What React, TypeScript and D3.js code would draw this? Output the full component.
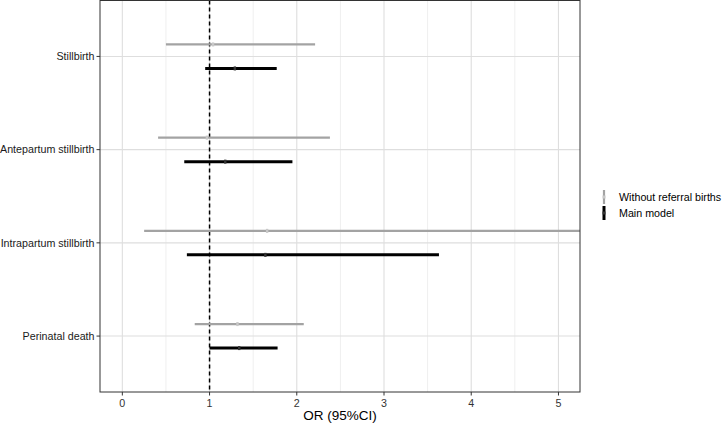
import React from "react";
import * as d3 from "d3";

const outcomes = ["Stillbirth", "Antepartum stillbirth", "Intrapartum stillbirth", "Perinatal death"];
const models = ["Without referral births", "Main model"];
const mainOR = [1.29, 1.18, 1.64, 1.34];
const mainLower = [0.95, 0.71, 0.74, 1.0];
const mainUpper = [1.77, 1.95, 3.63, 1.78];
const noRefOR = [1.04, 0.97, 1.66, 1.32];
const noRefLower = [0.5, 0.41, 0.25, 0.83];
const noRefUpper = [2.21, 2.38, 6.5, 2.08];
const xTicks = [0, 1, 2, 3, 4, 5];
const xMinor = [0.5, 1.5, 2.5, 3.5, 4.5];

const W = 722, H = 423;
const left = 100, right = 580, top = 0.5, bottom = 392;

export default function App() {
  const x = d3.scaleLinear().domain([-0.256, 5.247]).range([left, right]);
  const y = d3.scalePoint<string>().domain(outcomes).range([top, bottom]).padding(0.6);
  const off = 12;
  const series = [
    { name: models[0], or: noRefOR, lo: noRefLower, hi: noRefUpper, color: "#a3a3a3", pt: "#c8c8c8", dy: -off, w: 2.2 },
    { name: models[1], or: mainOR, lo: mainLower, hi: mainUpper, color: "#000000", pt: "#333333", dy: off, w: 3 },
  ];
  const font = "'Liberation Sans', Arial, Helvetica, sans-serif";
  const fs = 10.7;
  return (
    <svg width={W} height={H} style={{ position: "absolute", left: 0, top: 0, fontFamily: font }}>
      <defs>
        <clipPath id="panel">
          <rect x={left} y={top} width={right - left} height={bottom - top} />
        </clipPath>
      </defs>
      <rect x={0} y={0} width={W} height={H} fill="#fff" />
      {xMinor.map((t) => (
        <line key={"m" + t} x1={x(t)} x2={x(t)} y1={top} y2={bottom} stroke="#efefef" strokeWidth={1} />
      ))}
      {xTicks.map((t) => (
        <line key={"g" + t} x1={x(t)} x2={x(t)} y1={top} y2={bottom} stroke="#dedede" strokeWidth={1.1} />
      ))}
      {outcomes.map((o) => (
        <line key={"h" + o} x1={left} x2={right} y1={y(o)!} y2={y(o)!} stroke="#dedede" strokeWidth={1.1} />
      ))}
      <line x1={x(1)} x2={x(1)} y1={top} y2={bottom} stroke="#000" strokeWidth={1.5} strokeDasharray="4,3" />
      <g clipPath="url(#panel)">
        {series.map((s) =>
          outcomes.map((o, i) => {
            const yy = y(o)! + s.dy;
            return (
              <g key={s.name + o}>
                <line x1={x(s.lo[i])} x2={x(s.hi[i])} y1={yy} y2={yy} stroke={s.color} strokeWidth={s.w} />
                <rect x={x(s.or[i]) - 1.2} y={yy - 2} width={2.4} height={4} fill={s.pt} />
              </g>
            );
          })
        )}
      </g>
      <rect x={left} y={top} width={right - left} height={bottom - top} fill="none" stroke="#333" strokeWidth={1} />
      {xTicks.map((t) => (
        <g key={"xt" + t}>
          <line x1={x(t)} x2={x(t)} y1={bottom} y2={bottom + 3.5} stroke="#333" strokeWidth={1} />
          <text x={x(t)} y={bottom + 14.5} textAnchor="middle" fontSize={fs} fill="#333">{t}</text>
        </g>
      ))}
      {outcomes.map((o) => (
        <g key={"yt" + o}>
          <line x1={left - 3.5} x2={left} y1={y(o)!} y2={y(o)!} stroke="#333" strokeWidth={1} />
          <text x={left - 5.5} y={y(o)! + 3.8} textAnchor="end" fontSize={fs} fill="#1a1a1a">{o}</text>
        </g>
      ))}
      <text x={(left + right) / 2} y={420} textAnchor="middle" fontSize={13.5} fill="#000">OR (95%CI)</text>
      {series.map((s, i) => {
        const cy = 197 + i * 16;
        return (
          <g key={"lg" + s.name}>
            <line x1={604} x2={604} y1={cy - 7} y2={cy + 7} stroke={s.color} strokeWidth={s.w} />
            <rect x={602.5} y={cy - 1.5} width={3} height={3} fill={s.pt} />
            <text x={619} y={cy + 3.8} fontSize={fs} fill="#000">{s.name}</text>
          </g>
        );
      })}
    </svg>
  );
}
